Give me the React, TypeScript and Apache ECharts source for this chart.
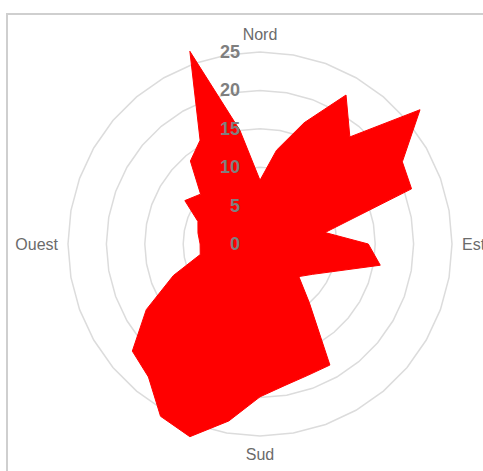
import React, { useEffect, useRef } from 'react';
import * as echarts from 'echarts';

// Wind directions (degrees clockwise from north) and values
const directions = [0, 10, 20, 30, 40, 50, 60, 70, 80, 90, 100, 110, 120, 130, 140, 150, 160, 170,
  180, 190, 200, 210, 220, 230, 240, 250, 260, 270, 280, 290, 300, 310, 320, 330, 340, 350];
const speeds = [8.3, 12.4, 16.8, 22.4, 18.2, 27.2, 21.4, 21.0, 8.6, 14.1, 15.9, 10.4, 7.9, 6.6, 10.0, 18.2, 18.2, 18.7,
  19.9, 23.4, 26.7, 25.9, 22.6, 21.7, 17.1, 12.0, 7.9, 7.8, 8.2, 8.6, 11.3, 10.1, 14.1, 15.6, 26.7, 15.0];
const cardinalDirections = [0, 90, 180, 270];
const cardinalLabels = ['Nord', 'Est', 'Sud', 'Ouest'];
const radialMin = 0;
const radialMax = 25;
const radialStep = 5;

const FONT = "'Liberation Sans', Arial, sans-serif";

export default function App() {
  const ref = useRef<HTMLDivElement>(null);
  useEffect(() => {
    const chart = echarts.init(ref.current!, undefined, { renderer: 'svg' });
    const n = directions.length;
    // radar indicators run counter-clockwise from north
    const order = directions.map((_, i) => (n - i) % n);
    const indicator = order.map((k) => {
      const ci = cardinalDirections.indexOf(directions[k]);
      return { name: ci >= 0 ? cardinalLabels[ci] : '', min: radialMin, max: radialMax };
    });
    const values = order.map((k) => speeds[k]);
    chart.setOption({
      animation: false,
      radar: {
        center: [260, 244],
        radius: 192,
        startAngle: 90,
        shape: 'polygon',
        splitNumber: (radialMax - radialMin) / radialStep,
        axisNameGap: 10,
        axisName: { color: '#6b6b6b', fontSize: 16, fontFamily: FONT },
        splitLine: { lineStyle: { color: '#dcdcdc', width: 1.5 } },
        splitArea: { show: false },
        axisLine: { show: false },
        axisTick: { show: false },
        axisLabel: { show: false },
        indicator,
      },
      polar: { center: [260, 244], radius: 192 },
      angleAxis: { show: false, type: 'value', startAngle: 90, min: 0, max: 360 },
      radiusAxis: {
        min: radialMin,
        max: radialMax,
        interval: radialStep,
        z: 10,
        axisLine: { show: false },
        axisTick: { show: false },
        splitLine: { show: false },
        axisLabel: { margin: 20, color: '#7f7f7f', fontWeight: 'bold', fontSize: 18, fontFamily: FONT },
      },
      series: [
        {
          type: 'radar',
          symbol: 'none',
          lineStyle: { color: '#ff0000', width: 1 },
          areaStyle: { color: '#ff0000', opacity: 1 },
          data: [{ value: values }],
        },
      ],
    });
    return () => chart.dispose();
  }, []);

  return (
    <div style={{ position: 'fixed', left: 0, top: 0, width: 483, height: 471, overflow: 'hidden', background: '#fff' }}>
      <div style={{ position: 'absolute', left: 6, top: 13, width: 1000, height: 1000, borderLeft: '2px solid #cfcfcf', borderTop: '2px solid #cfcfcf' }} />
      <div ref={ref} style={{ position: 'absolute', left: 0, top: 0, width: 483, height: 471 }} />
    </div>
  );
}
